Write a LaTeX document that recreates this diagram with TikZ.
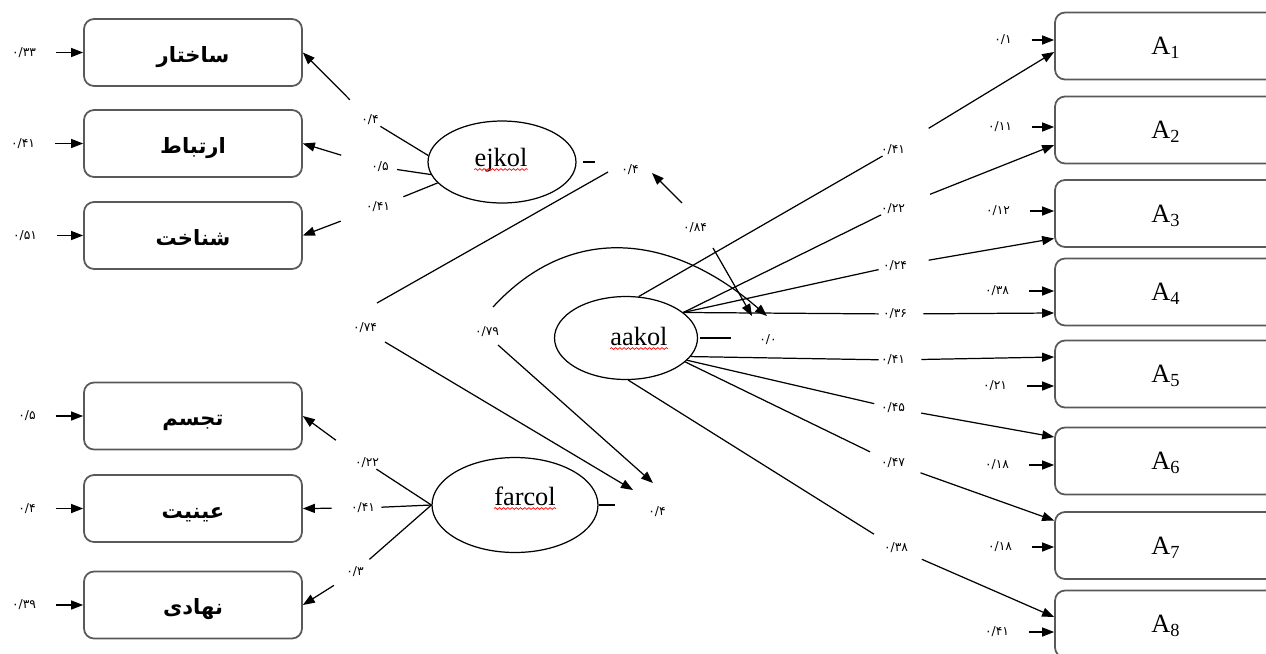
\documentclass[tikz,border=0pt]{standalone}
\usepackage{fontspec}
\setmainfont{Liberation Serif}
\newfontfamily\arb[Script=Arabic]{DejaVu Sans}
\TeXXeTstate=1
\usetikzlibrary{arrows.meta,shapes.geometric,decorations.pathmorphing,calc}
\newcommand{\artxt}[1]{\beginR #1\endR}
\begin{document}
\begin{tikzpicture}[x=0.02cm,y=-0.02cm,
  ln/.style={line width=0.7pt},
  arr/.style={ln,-{Triangle[length=0.24cm,width=0.18cm]}},
  obs/.style={draw=black!65, line width=1pt, rounded corners=0.2cm, minimum width=4.36cm, minimum height=1.34cm, inner sep=0pt},
  obsl/.style={obs, text height=11pt, text depth=0pt},
  obsr/.style={obs, minimum width=4.44cm, text depth=0pt},
  lat/.style={draw, ellipse, line width=0.7pt, inner sep=0pt},
  num/.style={font=\arb\fontsize{7}{8}\selectfont, inner sep=0pt, outer sep=0pt},
  fa/.style={font=\arb\bfseries\fontsize{12}{14}\selectfont},
  nm/.style={font=\fontsize{15}{17}\selectfont, inner sep=0pt},
  wavy/.style={red, line width=0.4pt, decorate, decoration={snake, amplitude=0.5pt, segment length=2.4pt}}
]
\path[fill=white, use as bounding box] (0,0) rectangle (1266,653);

% left observed boxes
\node[obsl, fa] (b1) at (193,52.5) {\artxt{ساختار}};
\node[obsl, fa] (b2) at (193,143.5) {\artxt{ارتباط}};
\node[obsl, fa] (b3) at (193,235.5) {\artxt{شناخت}};
\node[obsl, fa] (b4) at (193,416) {\artxt{تجسم}};
\node[obsl, fa] (b5) at (193,508.5) {\artxt{عینیت}};
\node[obsl, fa] (b6) at (193,605) {\artxt{نهادی}};

% right observed boxes
\node[obsr, nm] (A1) at (1166,46) {A\textsubscript{1}};
\node[obsr, nm] (A2) at (1166,130) {A\textsubscript{2}};
\node[obsr, nm] (A3) at (1166,213.5) {A\textsubscript{3}};
\node[obsr, nm] (A4) at (1166,292) {A\textsubscript{4}};
\node[obsr, nm] (A5) at (1166,374) {A\textsubscript{5}};
\node[obsr, nm] (A6) at (1166,461) {A\textsubscript{6}};
\node[obsr, nm] (A7) at (1166,545.5) {A\textsubscript{7}};
\node[obsr, nm] (A8) at (1166,624) {A\textsubscript{8}};

% latent ellipses
\node[lat, minimum width=2.96cm, minimum height=1.64cm] (ej) at (502,162) {};
\node[lat, minimum width=3.32cm, minimum height=1.9cm] (fa) at (515,505) {};
\node[lat, minimum width=2.86cm, minimum height=1.66cm] (aa) at (626,338) {};
\node[nm, anchor=base] (ejt) at (501,166) {ejkol};
\node[nm, anchor=base] (fat) at (525,505) {farcol};
\node[nm, anchor=base] (aat) at (639,345) {aakol};
\draw[wavy] ([yshift=-0.07cm]ejt.base west) -- ([yshift=-0.07cm]ejt.base east);
\draw[wavy] ([yshift=-0.07cm]fat.base west) -- ([yshift=-0.07cm]fat.base east);
\draw[wavy] ([yshift=-0.07cm]aat.base west) -- ([yshift=-0.07cm]aat.base east);

% numeric labels
\node[num] (e1) at (24,52.5) {۰/۳۳};
\node[num] (e2) at (23,143.5) {۰/۴۱};
\node[num] (e3) at (25,235.5) {۰/۵۱};
\node[num] (e4) at (27,416) {۰/۵};
\node[num] (e5) at (27,508.5) {۰/۴};
\node[num] (e6) at (24,605) {۰/۳۹};

\node[num] (r1) at (1003,40) {۰/۱};
\node[num] (r2) at (1000,127) {۰/۱۱};
\node[num] (r3) at (998,211) {۰/۱۲};
\node[num] (r4) at (997,291) {۰/۳۸};
\node[num] (r5) at (995,386) {۰/۲۱};
\node[num] (r6) at (997,465) {۰/۱۸};
\node[num] (r7) at (1000,547) {۰/۱۸};
\node[num] (r8) at (997,632) {۰/۴۱};

\node[num] (l1) at (370,120) {۰/۴};
\node[num] (l2) at (380,167) {۰/۵};
\node[num] (l3) at (378,207) {۰/۴۱};
\node[num] (f1) at (367,463) {۰/۲۲};
\node[num] (f2) at (363,508) {۰/۴۱};
\node[num] (f3) at (355,572) {۰/۳};

\node[num] (ejerr) at (630,170) {۰/۴};
\node[num] (faerr) at (657,512) {۰/۴};
\node[num] (aaerr) at (768,340) {۰/۰};
\node[num] (m74) at (365,328) {۰/۷۴};
\node[num] (m79) at (487,332) {۰/۷۹};
\node[num] (m84) at (695,228) {۰/۸۴};

\node[num] (m1) at (893,150) {۰/۴۱};
\node[num] (m2) at (893,209) {۰/۲۲};
\node[num] (m3) at (895,266) {۰/۲۴};
\node[num] (m4) at (895,314) {۰/۳۶};
\node[num] (m5) at (893,360) {۰/۴۱};
\node[num] (m6) at (893,408) {۰/۴۵};
\node[num] (m7) at (893,463) {۰/۴۷};
\node[num] (m8) at (896,548) {۰/۳۸};

% error arrows, left
\foreach \i in {1,...,6} \draw[arr, shorten <=0.4cm] (e\i) -- (b\i);
% error arrows, right
\foreach \i in {1,...,8} \draw[arr, shorten <=0.4cm] (r\i.east) -- (r\i.east -| A\i.west);

% ejkol loadings
\draw[ln, shorten >=0.05cm] (ej.175) -- (l1);
\draw[arr, shorten <=0.43cm] (l1) -- (b1.east);
\draw[ln, shorten >=0.17cm] (ej.190) -- (l2);
\draw[arr, shorten <=0.63cm] (l2) -- (b2.east);
\draw[ln, shorten >=0.29cm] (ej.198) -- (l3);
\draw[arr, shorten <=0.54cm] (l3) -- (b3.east);

% farcol loadings
\draw[ln, shorten >=0.04cm] (fa.west) -- (f1);
\draw[arr, shorten <=0.6cm] (f1) -- (b4.east);
\draw[ln, shorten >=0.13cm] (fa.west) -- (f2);
\draw[arr, shorten <=0.39cm] (f2) -- (b5.east);
\draw[ln, shorten >=0.23cm] (fa.west) -- (f3);
\draw[arr, shorten <=0.31cm] (f3) -- (b6.east);

% aakol loadings
\draw[ln, shorten >=0.04cm] (aa.73) -- (m1);
\draw[arr, shorten <=0.64cm] (m1) -- ([yshift=-0.12cm]A1.west);
\draw[ln, shorten >=0.04cm] (aa.24) -- (m2);
\draw[arr, shorten <=0.54cm] (m2) -- ([yshift=-0.3cm]A2.west);
\draw[ln, shorten >=0.09cm] (aa.24) -- (m3);
\draw[arr, shorten <=0.44cm] (m3) -- ([yshift=-0.5cm]A3.west);
\draw[ln, shorten >=0.09cm] (aa.24) -- (m4);
\draw[arr, shorten <=0.33cm] (m4) -- ([yshift=-0.42cm]A4.west);
\draw[ln, shorten >=0.05cm] (aa.344) -- (m5);
\draw[arr, shorten <=0.33cm] (m5) -- ([yshift=0.34cm]A5.west);
\draw[ln, shorten >=0.14cm] (aa.340) -- (m6);
\draw[arr, shorten <=0.33cm] (m6) -- ([yshift=0.48cm]A6.west);
\draw[ln, shorten >=0.28cm] (aa.338) -- (m7);
\draw[arr, shorten <=0.33cm] (m7) -- ([yshift=0.5cm]A7.west);
\draw[ln, shorten >=0.33cm] (aa.273) -- (m8);
\draw[arr, shorten <=0.31cm] (m8) -- ([yshift=0.14cm]A8.west);

% residual dashes
\draw[ln, shorten <=0.12cm, shorten >=0.53cm] (ej.east) -- (ej.east -| ejerr.west);
\draw[ln, shorten >=0.67cm] (fa.east) -- (fa.east -| faerr.west);
\draw[ln, shorten <=0.04cm, shorten >=0.57cm] (aa.east) -- (aa.east -| aaerr.west);

% structural paths
\draw[ln] ([xshift=0.24cm,yshift=0.5cm]m74.center) -- ([xshift=-0.44cm,yshift=-0.04cm]ejerr.center);
\draw[arr] ([xshift=0.4cm,yshift=-0.28cm]m74.center) -- ([xshift=-0.48cm,yshift=0.44cm]faerr.center);
\draw[arr] ([xshift=0.22cm,yshift=-0.26cm]m79.center) -- ([xshift=-0.08cm,yshift=0.58cm]faerr.center);
\draw[arr] ([xshift=0.12cm,yshift=0.5cm]m79.center) .. controls (573,220) and (675,236) .. ([xshift=-0.02cm,yshift=0.48cm]aaerr.center);
\draw[arr] ([xshift=-0.26cm,yshift=0.5cm]m84.center) -- ([xshift=0.44cm,yshift=-0.06cm]ejerr.center);
\draw[arr] ([xshift=0.36cm,yshift=-0.4cm]m84.center) -- ([xshift=-0.32cm,yshift=0.48cm]aaerr.center);
\end{tikzpicture}
\end{document}
